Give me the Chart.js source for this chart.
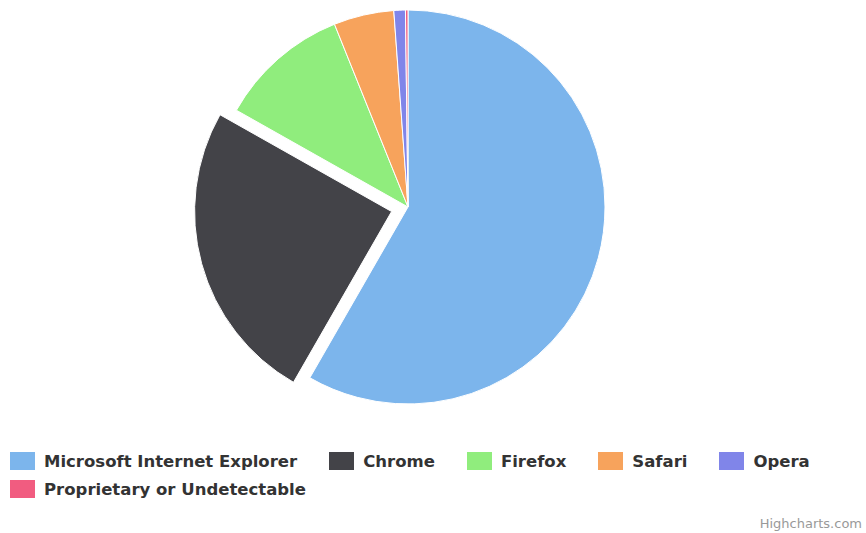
<!DOCTYPE html>
<html>
<head>
<meta charset="utf-8">
<script src="https://cdn.jsdelivr.net/npm/chart.js@4"></script>
<style>
  body { margin: 0; background: #fff; width: 866px; height: 533px; position: relative; overflow: hidden; font-family: "DejaVu Sans", sans-serif; }
  #wrap { position: absolute; left: 0; top: 0; width: 816px; height: 414px; }
  #legend { position: absolute; left: 10px; top: 452px; width: 845px; display: flex; flex-wrap: wrap; row-gap: 10px; }
  .item { display: flex; align-items: center; height: 18px; margin-right: 32px; font-weight: bold; font-size: 16.5px; color: #333333; white-space: nowrap; }
  .box { width: 25px; height: 18px; margin-right: 9px; }
  #credit { position: absolute; right: 4px; top: 516px; font-size: 13px; color: #999999; }
</style>
</head>
<body>
<div id="wrap"><canvas id="myChart"></canvas></div>
<div id="legend"></div>
<div id="credit">Highcharts.com</div>
<script>
var browsers = ['Microsoft Internet Explorer', 'Chrome', 'Firefox', 'Safari', 'Opera', 'Proprietary or Undetectable'];
var shares = [56.33, 24.03, 10.38, 4.77, 0.91, 0.2];
var colors = ['#7cb5ec', '#434348', '#90ed7d', '#f7a35c', '#8085e9', '#f15c80'];
var sliced = [0, 68, 0, 0, 0, 0];

var ctx = document.getElementById('myChart').getContext('2d');
var myChart = new Chart(ctx, {
    type: 'pie',
    data: {
        labels: browsers,
        datasets: [{
            data: shares,
            backgroundColor: colors,
            borderColor: '#ffffff',
            borderWidth: 1,
            hoverBorderWidth: 1,
            offset: sliced,
            hoverOffset: 0
        }]
    },
    options: {
        responsive: true,
        maintainAspectRatio: false,
        animation: false,
        radius: 197,
        plugins: {
            legend: { display: false },
            tooltip: { enabled: false }
        }
    }
});

// legend in the Highcharts style
var legend = document.getElementById('legend');
browsers.forEach(function (name, i) {
    var item = document.createElement('div');
    item.className = 'item';
    var box = document.createElement('span');
    box.className = 'box';
    box.style.background = colors[i];
    item.appendChild(box);
    item.appendChild(document.createTextNode(name));
    legend.appendChild(item);
});
</script>
</body>
</html>
